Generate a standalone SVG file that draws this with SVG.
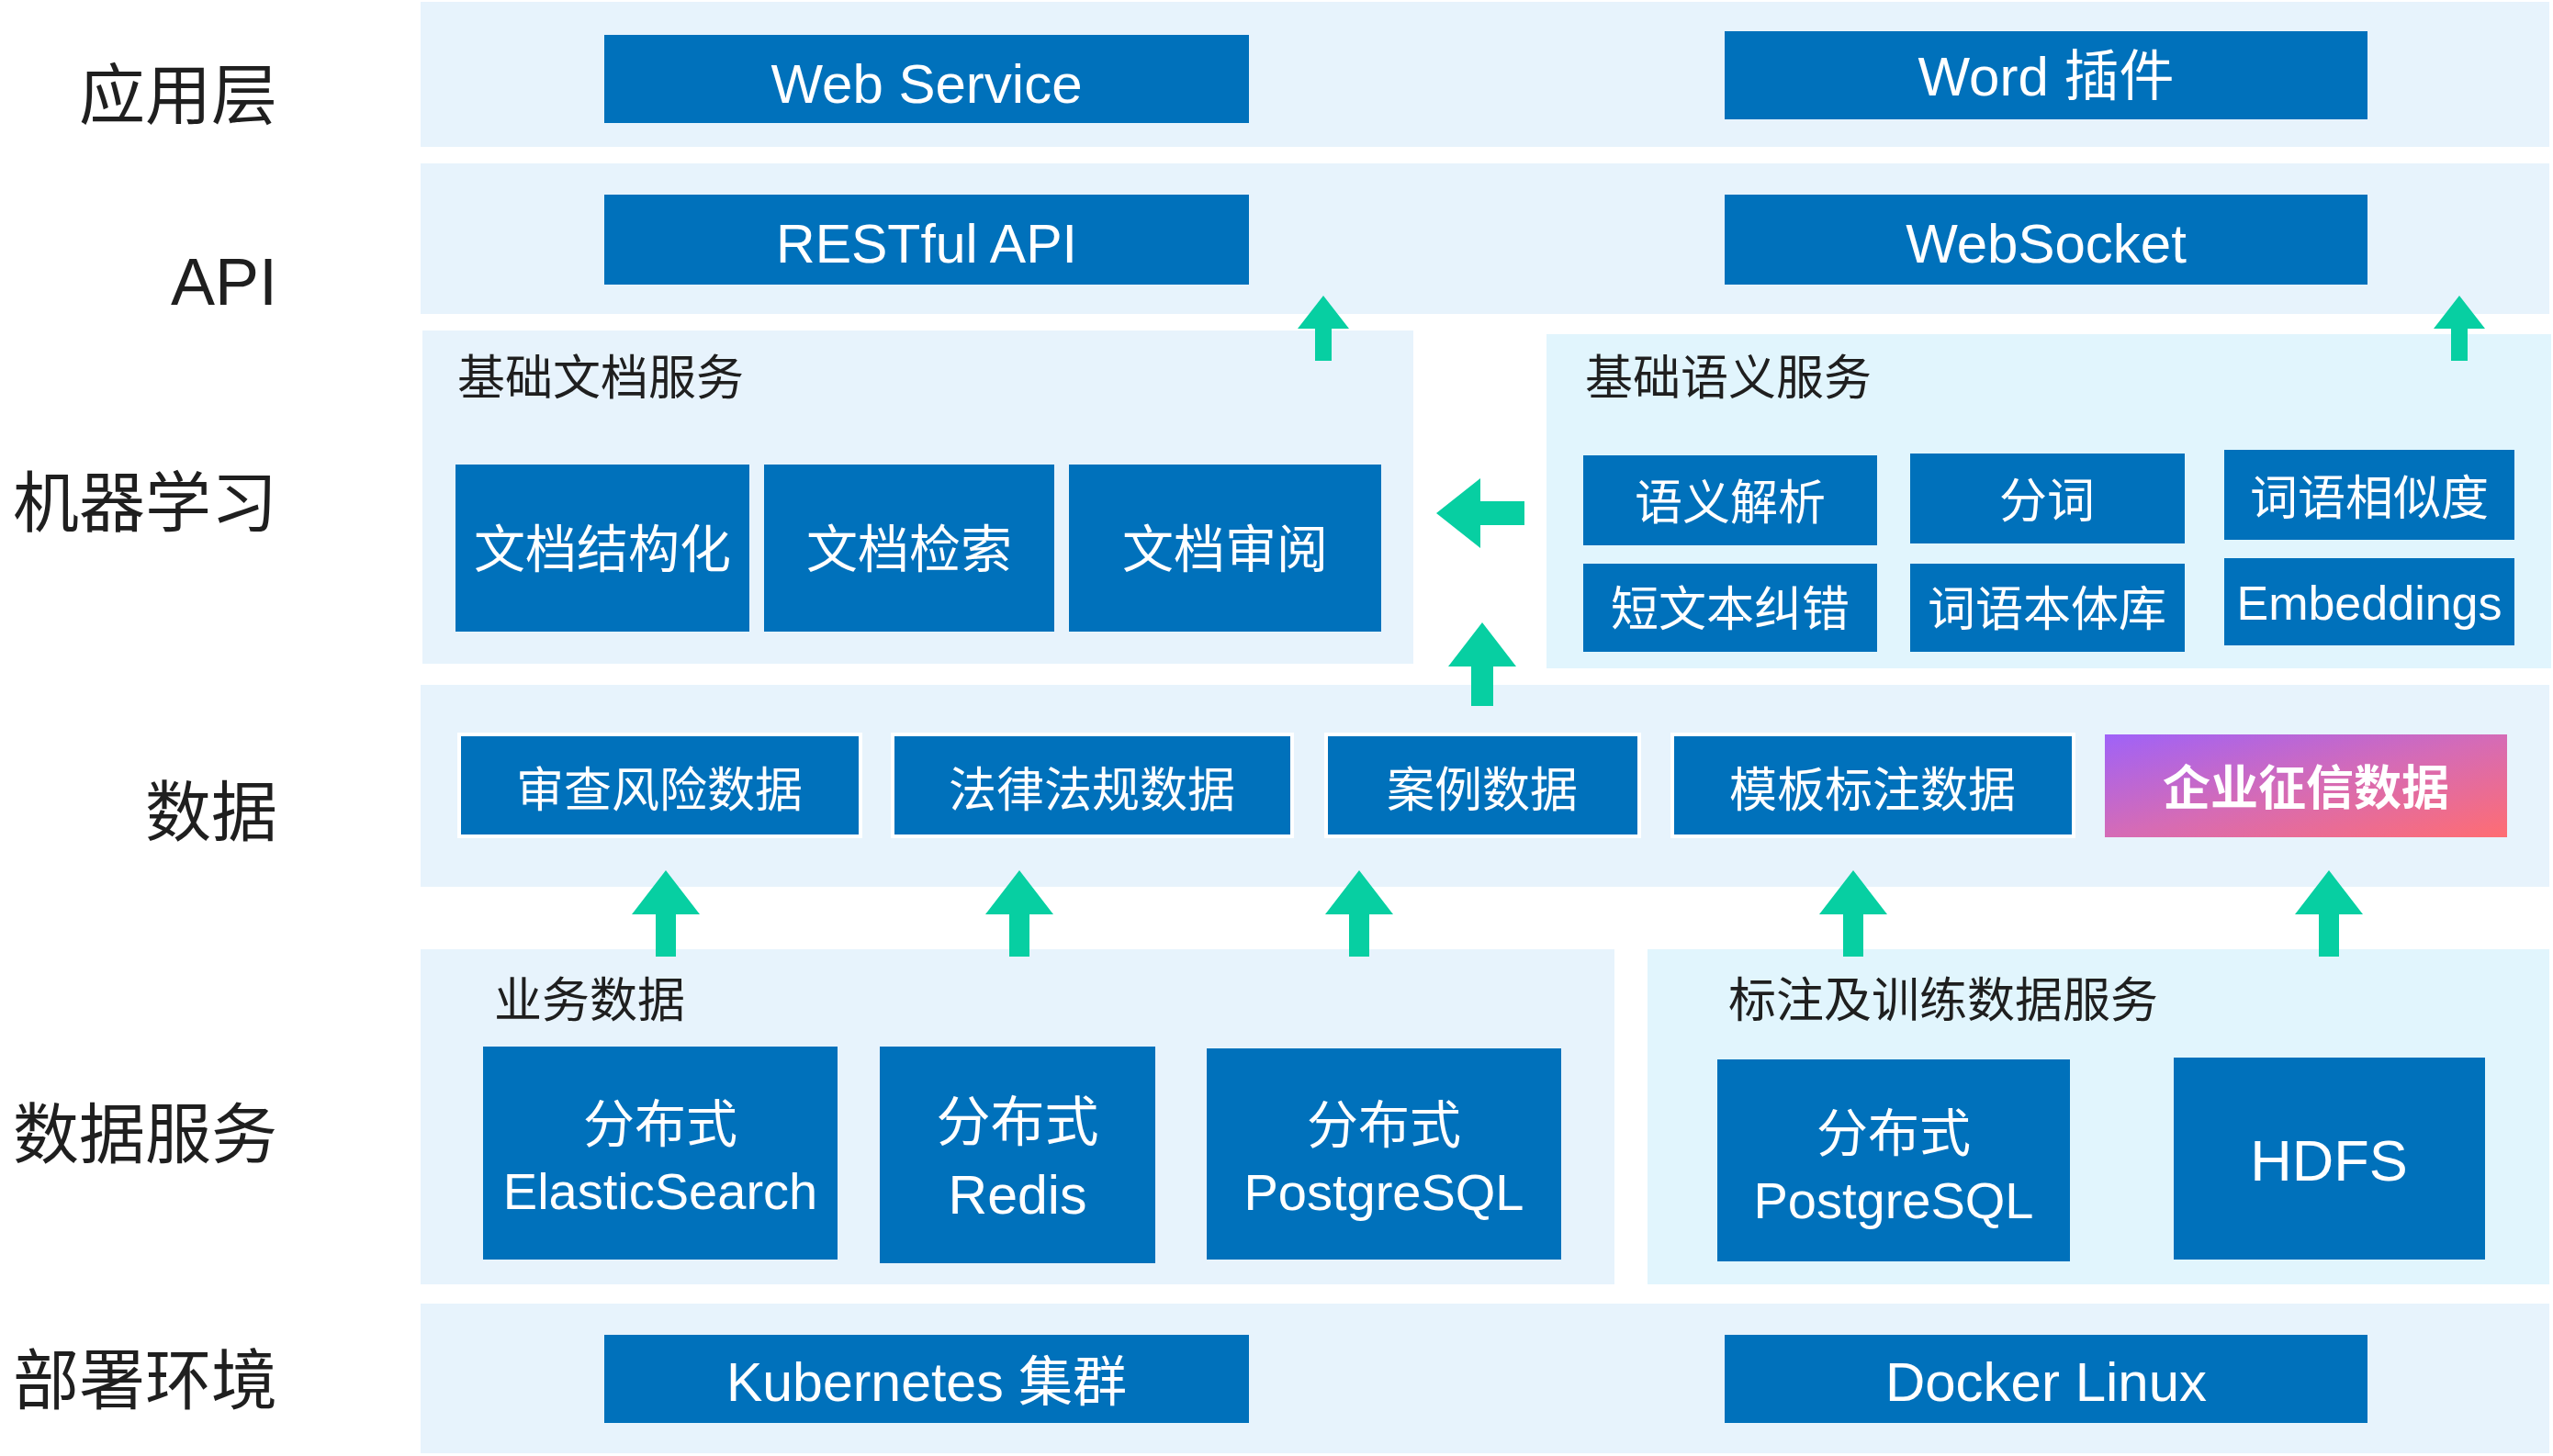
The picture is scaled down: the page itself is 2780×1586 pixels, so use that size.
<svg xmlns="http://www.w3.org/2000/svg" width="2780" height="1586" viewBox="0 0 2780 1586">
<defs>
<linearGradient id="grad" x1="0" y1="0" x2="1" y2="1">
<stop offset="0" stop-color="#9F62F8"/>
<stop offset="0.5" stop-color="#D56BB6"/>
<stop offset="1" stop-color="#FF6D72"/>
</linearGradient>
<style>
.band{fill:#E7F3FC}
.band2{fill:#E1F5FD}
.node{fill:#0071BB}
.dnode{fill:#0071BB;stroke:#FFFFFF;stroke-width:4}
.arr{fill:#07CFA2}
.lab{font-family:"Noto Sans CJK SC",sans-serif;font-size:72px;fill:#1F1F1F;text-anchor:end}
.labEn{font-family:"Liberation Sans","Noto Sans CJK SC",sans-serif;font-size:72px;fill:#1F1F1F;text-anchor:end}
.ttl{font-family:"Noto Sans CJK SC",sans-serif;font-size:52px;fill:#1F1F1F}
.en{font-family:"Liberation Sans","Noto Sans CJK SC",sans-serif;fill:#FFFFFF;text-anchor:middle}
.cn{font-family:"Noto Sans CJK SC",sans-serif;fill:#FFFFFF;text-anchor:middle}
</style>
</defs>

<g id="layer-labels">
<text class="lab" x="302" y="129">应用层</text>
<text class="labEn" x="302" y="332">API</text>
<text class="lab" x="302" y="573">机器学习</text>
<text class="lab" x="302" y="910">数据</text>
<text class="lab" x="302" y="1261">数据服务</text>
<text class="lab" x="302" y="1529">部署环境</text>
</g>

<g id="bands">
<rect id="band-app" class="band" x="458" y="2" width="2318" height="158"/>
<rect id="band-api" class="band" x="458" y="178" width="2318" height="164"/>
<rect id="band-data" class="band" x="458" y="746" width="2318" height="220"/>
<rect id="band-deploy" class="band" x="458" y="1420" width="2318" height="163"/>
</g>

<g id="group-doc">
<rect class="band" x="460" y="360" width="1079" height="363"/>
<text class="ttl" x="498" y="430">基础文档服务</text>
</g>
<g id="group-sem">
<rect class="band2" x="1684" y="364" width="1094" height="364"/>
<text class="ttl" x="1726" y="430">基础语义服务</text>
</g>
<g id="group-biz">
<rect class="band" x="458" y="1034" width="1300" height="365"/>
<text class="ttl" x="538" y="1108">业务数据</text>
</g>
<g id="group-label">
<rect class="band2" x="1794" y="1034" width="982" height="365"/>
<text class="ttl" x="1882" y="1108">标注及训练数据服务</text>
</g>

<g id="node-webservice"><rect class="node" x="658" y="38" width="702" height="96"/><text class="en" x="1009" y="112" font-size="60">Web Service</text></g>
<g id="node-word"><rect class="node" x="1878" y="34" width="700" height="96"/><text class="en" x="2228" y="104" font-size="60">Word 插件</text></g>
<g id="node-restful"><rect class="node" x="658" y="212" width="702" height="98"/><text class="en" x="1009" y="286" font-size="59">RESTful API</text></g>
<g id="node-websocket"><rect class="node" x="1878" y="212" width="700" height="98"/><text class="en" x="2228" y="286" font-size="60">WebSocket</text></g>

<g id="node-docstruct"><rect class="node" x="496" y="506" width="320" height="182"/><text class="cn" x="656" y="618" font-size="56">文档结构化</text></g>
<g id="node-docsearch"><rect class="node" x="832" y="506" width="316" height="182"/><text class="cn" x="990" y="618" font-size="56">文档检索</text></g>
<g id="node-docreview"><rect class="node" x="1164" y="506" width="340" height="182"/><text class="cn" x="1334" y="618" font-size="56">文档审阅</text></g>

<g id="node-semparse"><rect class="node" x="1724" y="496" width="320" height="98"/><text class="cn" x="1884" y="566" font-size="52">语义解析</text></g>
<g id="node-seg"><rect class="node" x="2080" y="494" width="299" height="98"/><text class="cn" x="2229" y="564" font-size="52">分词</text></g>
<g id="node-wordsim"><rect class="node" x="2422" y="490" width="316" height="98"/><text class="cn" x="2580" y="561" font-size="52">词语相似度</text></g>
<g id="node-correct"><rect class="node" x="1724" y="614" width="320" height="96"/><text class="cn" x="1884" y="682" font-size="52">短文本纠错</text></g>
<g id="node-ontology"><rect class="node" x="2080" y="614" width="299" height="96"/><text class="cn" x="2229" y="682" font-size="52">词语本体库</text></g>
<g id="node-embeddings"><rect class="node" x="2422" y="608" width="316" height="95"/><text class="en" x="2580" y="675" font-size="52">Embeddings</text></g>

<g id="node-risk"><rect class="dnode" x="500" y="800" width="437" height="111"/><text class="cn" x="718" y="879" font-size="52">审查风险数据</text></g>
<g id="node-law"><rect class="dnode" x="972" y="800" width="435" height="111"/><text class="cn" x="1189" y="879" font-size="52">法律法规数据</text></g>
<g id="node-case"><rect class="dnode" x="1444" y="800" width="341" height="111"/><text class="cn" x="1614" y="879" font-size="52">案例数据</text></g>
<g id="node-template"><rect class="dnode" x="1821" y="800" width="437" height="111"/><text class="cn" x="2039" y="879" font-size="52">模板标注数据</text></g>
<g id="node-credit"><rect x="2292" y="800" width="438" height="112" fill="url(#grad)"/><text class="cn" x="2511" y="877" font-size="52" font-weight="bold">企业征信数据</text></g>

<g id="node-es"><rect class="node" x="526" y="1140" width="386" height="232"/><text class="cn" x="719" y="1244" font-size="56">分布式</text><text class="en" x="719" y="1317" font-size="56">ElasticSearch</text></g>
<g id="node-redis"><rect class="node" x="958" y="1140" width="300" height="236"/><text class="cn" x="1108" y="1243" font-size="59">分布式</text><text class="en" x="1108" y="1322" font-size="59">Redis</text></g>
<g id="node-pg1"><rect class="node" x="1314" y="1142" width="386" height="230"/><text class="cn" x="1507" y="1245" font-size="56">分布式</text><text class="en" x="1507" y="1318" font-size="56">PostgreSQL</text></g>
<g id="node-pg2"><rect class="node" x="1870" y="1154" width="384" height="220"/><text class="cn" x="2062" y="1254" font-size="56">分布式</text><text class="en" x="2062" y="1327" font-size="56">PostgreSQL</text></g>
<g id="node-hdfs"><rect class="node" x="2367" y="1152" width="339" height="220"/><text class="en" x="2536" y="1286" font-size="63">HDFS</text></g>

<g id="node-k8s"><rect class="node" x="658" y="1454" width="702" height="96"/><text class="en" x="1009" y="1526" font-size="59">Kubernetes 集群</text></g>
<g id="node-docker"><rect class="node" x="1878" y="1454" width="700" height="96"/><text class="en" x="2228" y="1526" font-size="60">Docker Linux</text></g>

<g id="connectors">
<polygon class="arr" points="1441,322 1469,358 1450,358 1450,393 1432,393 1432,358 1413,358"/>
<polygon class="arr" points="2678,322 2706,358 2687,358 2687,393 2669,393 2669,358 2650,358"/>
<polygon class="arr" points="1564,559 1612,521 1612,546 1660,546 1660,572 1612,572 1612,597"/>
<polygon class="arr" points="1614,678 1651,726 1626,726 1626,769 1602,769 1602,726 1577,726"/>
<polygon class="arr" points="725,948 762,996 736,996 736,1042 714,1042 714,996 688,996"/>
<polygon class="arr" points="1110,948 1147,996 1121,996 1121,1042 1099,1042 1099,996 1073,996"/>
<polygon class="arr" points="1480,948 1517,996 1491,996 1491,1042 1469,1042 1469,996 1443,996"/>
<polygon class="arr" points="2018,948 2055,996 2029,996 2029,1042 2007,1042 2007,996 1981,996"/>
<polygon class="arr" points="2536,948 2573,996 2547,996 2547,1042 2525,1042 2525,996 2499,996"/>
</g>
</svg>
